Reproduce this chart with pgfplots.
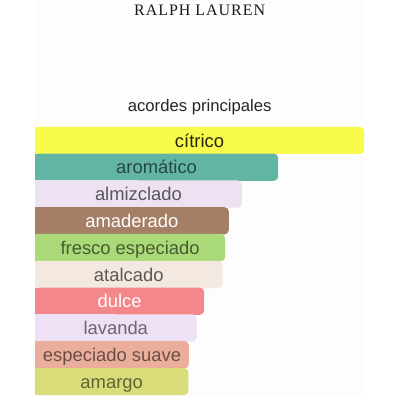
\documentclass[border=0pt]{standalone}
\usepackage{pgfplots}
\pgfplotsset{compat=1.18}
\usepackage{fontspec}
\setmainfont{Liberation Sans}
\newfontfamily\logofont[LetterSpace=6]{Liberation Serif}

\definecolor{citrico}{HTML}{F8FB4B}
\definecolor{aromatico}{HTML}{62B5A3}
\definecolor{almizclado}{HTML}{EDE2F1}
\definecolor{amaderado}{HTML}{A47F66}
\definecolor{fresco}{HTML}{AAD977}
\definecolor{atalcado}{HTML}{F3E9E0}
\definecolor{dulce}{HTML}{F38789}
\definecolor{lavanda}{HTML}{EEE1F5}
\definecolor{suave}{HTML}{EBAE9C}
\definecolor{amargo}{HTML}{D8DD79}

% y, value, fill, text colour, text opacity, label
\newcommand{\acorde}[6]{%
  \addplot[xbar, bar shift=0pt, bar width=20.4pt, draw=none, fill=#3,
    rounded corners=3.2pt] coordinates {(#2,#1)};
  \addplot[xbar, bar shift=0pt, bar width=20.4pt, draw=none, fill=#3,
    x filter/.expression={x/2}] coordinates {(#2,#1)};
  \addplot[draw=none, mark=none, x filter/.expression={x/2},
    point meta=explicit symbolic, nodes near coords,
    nodes near coords style={anchor=base, yshift=-5pt,
      font=\fontsize{13.8}{14}\selectfont, text=#4, text opacity=#5}]
    coordinates {(#2,#1) [#6]};
}

\begin{document}
\begin{tikzpicture}
\useasboundingbox (-26.25pt,-3.75pt) rectangle (273.75pt,296.25pt);
\fill[black!0.6] (0pt,-0.5pt) rectangle (247pt,296.25pt);
\begin{axis}[
  at={(0pt,0pt)}, anchor=south west,
  scale only axis, width=246.75pt, height=201pt,
  xmin=0, xmax=100, ymin=-0.5, ymax=9.5,
  y dir=reverse, hide axis, clip=false,
]
\acorde{0}{100}{citrico}{black}{0.85}{cítrico}
\acorde{1}{73.9}{aromatico}{black}{0.6}{aromático}
\acorde{2}{62.9}{almizclado}{black}{0.62}{almizclado}
\acorde{3}{58.9}{amaderado}{white}{1}{amaderado}
\acorde{4}{57.8}{fresco}{black}{0.58}{fresco especiado}
\acorde{5}{57.0}{atalcado}{black}{0.62}{atalcado}
\acorde{6}{51.4}{dulce}{white}{1}{dulce}
\acorde{7}{49.1}{lavanda}{black}{0.55}{lavanda}
\acorde{8}{46.8}{suave}{black}{0.55}{especiado suave}
\acorde{9}{46.6}{amargo}{black}{0.55}{amargo}
\end{axis}
\node[anchor=base, font=\fontsize{12.5}{13}\selectfont, text=black!85]
  at (123.5pt,212.25pt) {acordes principales};
\node[anchor=base, font=\fontsize{12}{12}\logofont, text=black!90]
  at (123.5pt,284.5pt) {RALPH LAUREN};
\end{tikzpicture}
\end{document}
